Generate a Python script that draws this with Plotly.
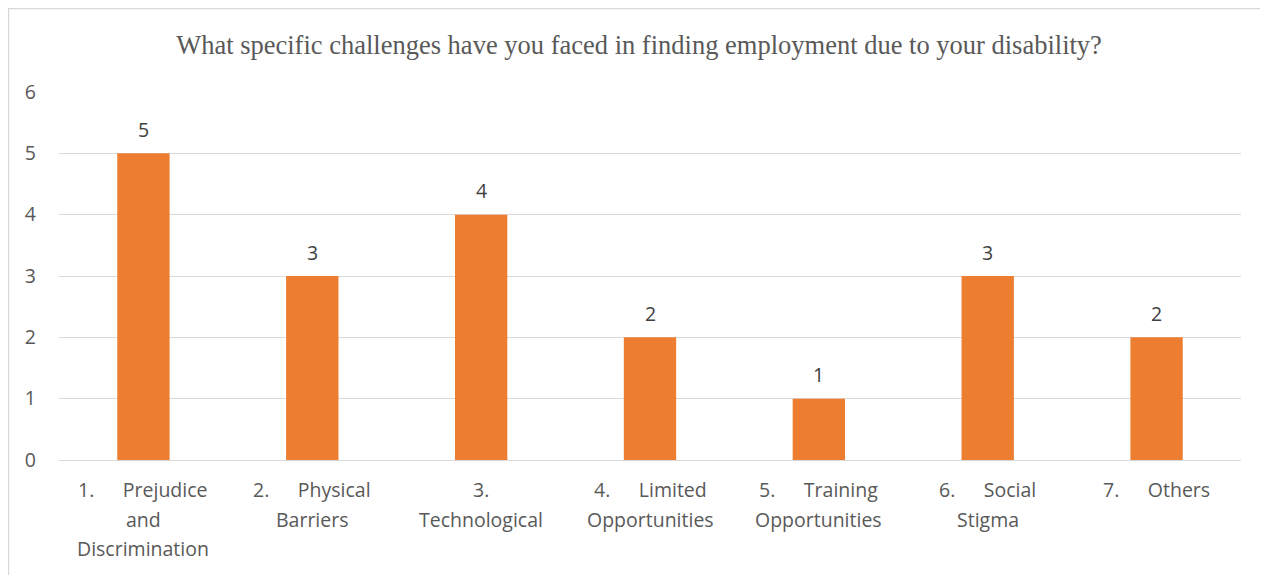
import plotly.graph_objects as go

SP = "\u00a0" * 5 + "\u2009"
categories = ["Prejudice and Discrimination", "Physical Barriers", "Technological",
              "Limited Opportunities", "Training Opportunities", "Social Stigma", "Others"]
label_lines = [
    ["1." + SP + "Prejudice", "and", "Discrimination"],
    ["2." + SP + "Physical", "Barriers"],
    ["3.", "Technological"],
    ["4." + SP + "Limited", "Opportunities"],
    ["5." + SP + "Training", "Opportunities"],
    ["6." + SP + "Social", "Stigma"],
    ["7." + SP + "Others"],
]
values = [5, 3, 4, 2, 1, 3, 2]
y_ticks = [0, 1, 2, 3, 4, 5, 6]

# page has an 8px body margin; figure spans page x 8..1268, y 8..575
W, H = 1260, 567
L, R, T, B = 51, 27, 84, 115
pw, ph = W - L - R, H - T - B

FONT = "Open Sans, sans-serif"
FS = 19.5
TXT = "#595959"

fig = go.Figure(go.Bar(
    x=categories, y=values,
    marker=dict(color="#ED7D31", line=dict(width=0)),
    hoverinfo="x+y",
))

annotations = []
for cat, v in zip(categories, values):
    annotations.append(dict(x=cat, y=v, xref="x", yref="y", text=str(v), showarrow=False,
                            yanchor="middle", xanchor="center", yshift=24,
                            font=dict(family=FONT, size=FS, color="#404040")))
for cat, lines in zip(categories, label_lines):
    for i, ln in enumerate(lines):
        annotations.append(dict(x=cat, y=0, xref="x", yref="y", text=ln, showarrow=False,
                                yanchor="middle", xanchor="center", yshift=-29.5 - 29.6 * i,
                                font=dict(family=FONT, size=FS, color=TXT)))

fig.add_shape(type="rect", xref="paper", yref="paper",
              x0=(0.5 - L) / pw, x1=(W + 5 - L) / pw,
              y0=-(B + 5) / ph, y1=(H - B - 0.5) / ph,
              line=dict(color="#D9D9D9", width=1.5), layer="below")

fig.update_layout(
    width=W, height=H,
    margin=dict(l=L, r=R, t=T, b=B),
    paper_bgcolor="white", plot_bgcolor="white",
    bargap=0.69,
    showlegend=False,
    annotations=annotations,
    title=dict(text="What specific challenges have you faced in finding employment due to your disability?",
               x=631 / W, xref="container", xanchor="center", y=1 - 37 / H, yanchor="middle",
               font=dict(family="Liberation Serif, serif", size=26.5, color=TXT)),
    xaxis=dict(showgrid=False, showline=False, ticks="", showticklabels=False),
    yaxis=dict(range=[0, 6], tickvals=y_ticks, showgrid=True, gridcolor="#D9D9D9", gridwidth=1.3,
               zeroline=True, zerolinecolor="#D9D9D9", zerolinewidth=1.3, showline=False, ticks="",
               tickfont=dict(family=FONT, size=FS, color=TXT),
               ticklabelstandoff=22),
)

fig.write_html("out.html")
